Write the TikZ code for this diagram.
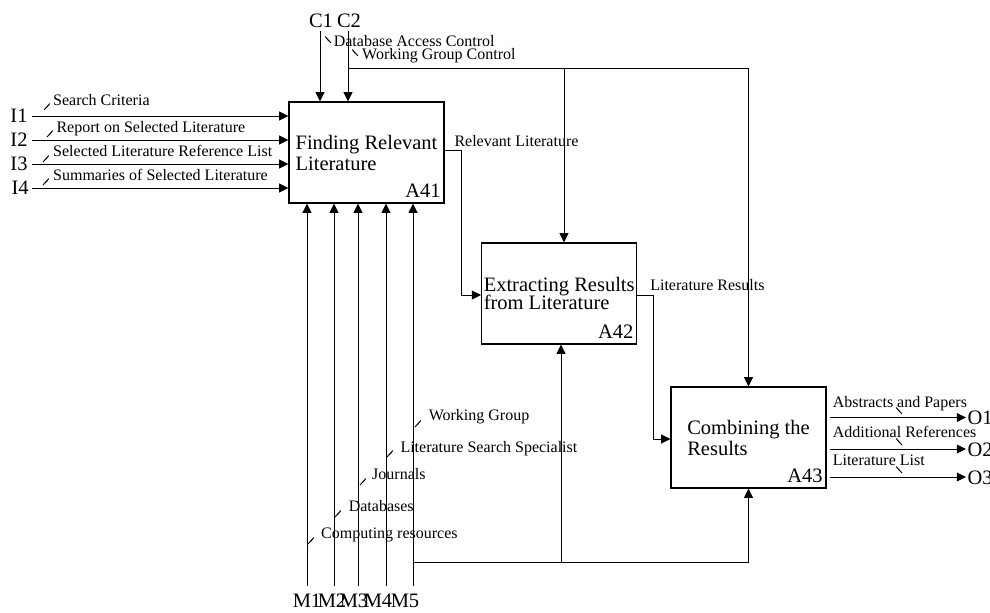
\documentclass[tikz,border=0pt]{standalone}
\usepackage{fontspec}
\setmainfont{Liberation Serif}
\usetikzlibrary{arrows.meta}
\begin{document}
\begin{tikzpicture}[x=0.5pt,y=-0.5pt,line width=0.5pt,
  arr/.style={-{Triangle[length=4.6pt,width=4.4pt]}},
  box/.style={draw,line width=0.6pt,minimum width=77.5pt,minimum height=50.5pt,inner sep=0pt,align=left,font=\fontsize{10.25}{10.5}\selectfont},
  big/.style={font=\fontsize{10.25}{12}\selectfont,inner sep=0pt},
  lab/.style={font=\fontsize{8}{9}\selectfont,inner sep=0pt,anchor=base west},
  squig/.pic={\draw[line width=0.45pt,line join=miter] (0,0) -- (3.2,-3.6) -- (2.4,-2.2) -- (5.6,-6.2);}
]
\useasboundingbox (0,0) rectangle (990,612);

% boxes
\node[box] (A41) at (366.5,152.5) {Finding Relevant\\Literature};
\node[box] (A42) at (559.2,293.5) {Extracting Results\\[-1.3pt]from Literature};
\node[box] (A43) at (748.5,437.5) {Combining the\\Results};
\node[big,anchor=base east] (A41n) at ([shift={(-3.5,-6)}]A41.south east) {A41};
\node[big,anchor=base east] (A42n) at ([shift={(-3.5,-6)}]A42.south east) {A42};
\node[big,anchor=base east] (A43n) at ([shift={(-3.5,-6)}]A43.south east) {A43};

% inputs
\coordinate (i1s) at (32,116);
\coordinate (i2s) at (32,140);
\coordinate (i3s) at (32,164);
\coordinate (i4s) at (32,188);
\foreach \i in {1,2,3,4} {\draw[arr] (i\i s) -- (i\i s -| A41.west);}
\node[big,anchor=base west] (I1) at (10,122.7) {I1};
\node[big,anchor=base west] (I2) at (10,146.7) {I2};
\node[big,anchor=base west] (I3) at (10,170.7) {I3};
\node[big,anchor=base west] (I4) at (11,194.7) {I4};
\node[lab] (li1) at (52.7,105.7) {Search Criteria};
\node[lab] (li2) at (56,132.7) {Report on Selected Literature};
\node[lab] (li3) at (52.7,156.7) {Selected Literature Reference List};
\node[lab] (li4) at (52.7,180) {Summaries of Selected Literature};
\pic at (44,110) {squig};
\pic at (47,137) {squig};
\pic at (43,162) {squig};
\pic at (43,185) {squig};

% controls
\coordinate (c1s) at (320,31);
\coordinate (c2s) at (348,31);
\draw[arr] (c1s) -- (c1s |- A41.north);
\draw[arr] (c2s) -- (c2s |- A41.north);
\coordinate (c2j) at (348,68);
\coordinate (c2k) at (564,68);
\draw[arr] (c2j) -| (A43.north);
\draw[arr] (c2k) -- (c2k |- A42.north);
\node[big,anchor=base] (C1) at (321,27) {C1};
\node[big,anchor=base] (C2) at (349,27) {C2};
\node[lab] (lc1) at (333.3,46) {Database Access Control};
\node[lab] (lc2) at (361.7,59.5) {Working Group Control};
\pic[xscale=-1] at (331,43) {squig};
\pic[xscale=-1] at (358,56) {squig};

% mechanisms
\coordinate (m1s) at (307,586);
\coordinate (m2s) at (334,586);
\coordinate (m3s) at (358,586);
\coordinate (m4s) at (386,586);
\coordinate (m5s) at (413,586);
\foreach \i in {1,2,3,4,5} {\draw[arr] (m\i s) -- (m\i s |- A41.south);}
\coordinate (m5j) at (413,562);
\coordinate (m5k) at (561,562);
\draw[arr] (m5j) -| (A43.south);
\draw[arr] (m5k) -- (m5k |- A42.south);
\node[big,anchor=base] (M1) at (307,607.3) {M1};
\node[big,anchor=base] (M2) at (332,607.3) {M2};
\node[big,anchor=base] (M3) at (354,607.3) {M3};
\node[big,anchor=base] (M4) at (378,607.3) {M4};
\node[big,anchor=base] (M5) at (405,607.3) {M5};
\node[lab] (lm5) at (428.3,420.7) {Working Group};
\node[lab] (lm4) at (400,452.7) {Literature Search Specialist};
\node[lab] (lm3) at (371.7,479.3) {Journals};
\node[lab] (lm2) at (348.3,511) {Databases};
\node[lab] (lm1) at (320.7,538.3) {Computing resources};
\pic at (415,427) {squig};
\pic at (387,457) {squig};
\pic at (360,485) {squig};
\pic at (335,517) {squig};
\pic at (308,544) {squig};

% internal flows
\coordinate (rl1) at (461,150);
\coordinate (rl2) at (461,295);
\draw[arr] (rl1 -| A41.east) -- (rl1) -- (rl2) -- (rl2 -| A42.west);
\node[lab] (lrl) at (454,146) {Relevant Literature};
\coordinate (lr1) at (653,295);
\coordinate (lr2) at (653,439);
\draw[arr] (lr1 -| A42.east) -- (lr1) -- (lr2) -- (lr2 -| A43.west);
\node[lab] (llr) at (649.8,290) {Literature Results};

% outputs
\coordinate (o1e) at (966,417.5);
\coordinate (o2e) at (966,449);
\coordinate (o3e) at (966,477);
\foreach \i in {1,2,3} {\draw[arr] ([xshift=1.5pt]o\i e -| A43.east) -- (o\i e);}
\node[big,anchor=base west] (O1) at (967,424.5) {O1};
\node[big,anchor=base west] (O2) at (967,456) {O2};
\node[big,anchor=base west] (O3) at (967,484) {O3};
\node[lab] (lo1) at (832.3,407.3) {Abstracts and Papers};
\node[lab] (lo2) at (832.3,437.3) {Additional References};
\node[lab] (lo3) at (832.3,465) {Literature List};
\pic[xscale=-1] at (902,414) {squig};
\pic[xscale=-1] at (902,445) {squig};
\pic[xscale=-1] at (902,473) {squig};
\end{tikzpicture}
\end{document}
